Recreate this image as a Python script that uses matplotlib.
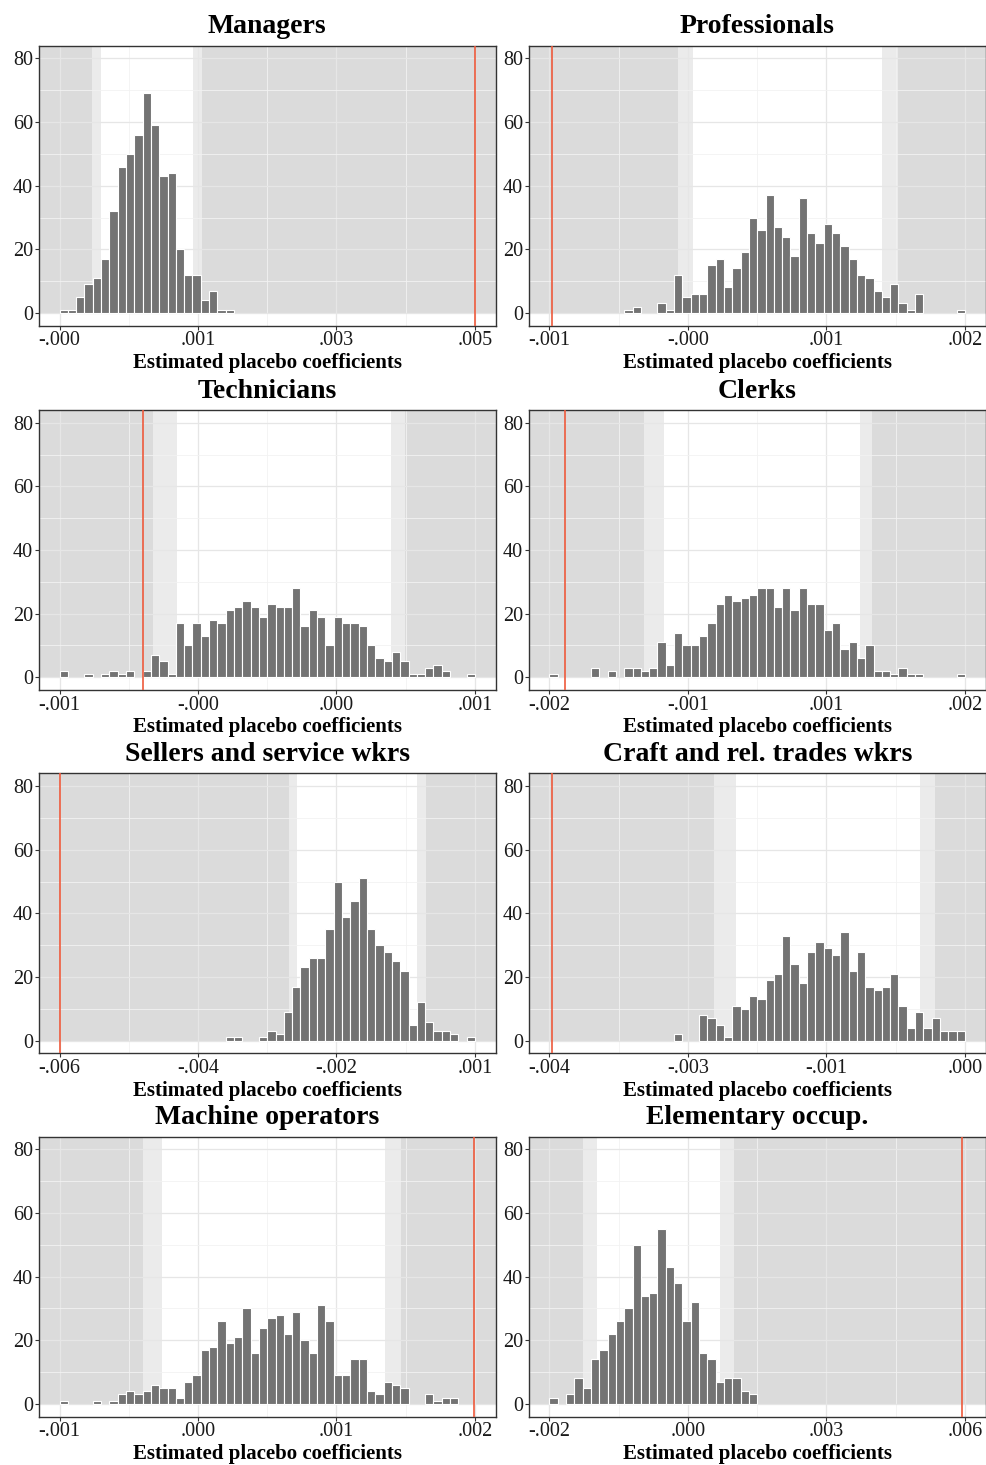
import numpy as np
import matplotlib.pyplot as plt

plt.rcParams['font.family'] = ['Liberation Serif', 'DejaVu Serif']

# occupation groups, one histogram of 500 placebo estimates each
titles = ["Managers", "Professionals", "Technicians", "Clerks",
          "Sellers and service wkrs", "Craft and rel. trades wkrs",
          "Machine operators", "Elementary occup."]

# range covered by the 50 histogram bins
x_lo = [-0.0004, -0.0011, -0.0008, -0.0022, -0.0060, -0.0040, -0.0007, -0.0024]
x_hi = [0.0048, 0.0020, 0.0007, 0.0020, 0.0006, 0.0001, 0.0020, 0.0057]

tick_labels = [["-.000", ".001", ".003", ".005"],
               ["-.001", "-.000", ".001", ".002"],
               ["-.001", "-.000", ".000", ".001"],
               ["-.002", "-.001", ".001", ".002"],
               ["-.006", "-.004", "-.002", ".001"],
               ["-.004", "-.003", "-.001", ".000"],
               ["-.001", ".000", ".001", ".002"],
               ["-.002", ".000", ".003", ".006"]]

# actual estimate (red line)
actual = [0.0048, -0.001078, -0.000499, -0.002038,
          -0.005989, -0.003977, 0.001995, 0.005635]

# outer / inner percentile bounds: dark | light | white | light | dark
bounds = [[0.0000108, 0.000123, 0.001266, 0.001388],
          [-0.000141, -0.0000286, 0.00138, 0.0015015],
          [-0.000463, -0.000377, 0.000397, 0.000447],
          [-0.001242, -0.001042, 0.000937, 0.001058],
          [-0.002358, -0.002231, -0.000327, -0.000179],
          [-0.002372, -0.002155, -0.000343, -0.000195],
          [-0.000157, -0.0000315, 0.001414, 0.001518],
          [-0.001742, -0.001469, 0.000934, 0.001188]]

counts = [
    [1, 1, 5, 9, 11, 17, 32, 46, 50, 56, 69, 59, 43, 44, 20, 12, 12, 4, 7, 1, 1] + [0] * 29,
    [0] * 9 + [1, 2, 0, 0, 3, 1, 12, 5, 6, 6, 15, 17, 8, 14, 19, 30, 26, 37, 27, 24,
               18, 36, 25, 22, 28, 25, 21, 17, 12, 11, 7, 5, 9, 3, 1, 6, 0, 0, 0, 0, 1],
    [2, 0, 0, 1, 0, 1, 2, 1, 2, 0, 2, 7, 5, 1, 17, 10, 17, 13, 18, 17, 21, 22, 24, 22, 19,
     23, 22, 22, 28, 16, 21, 19, 10, 19, 17, 17, 16, 10, 6, 5, 8, 5, 1, 1, 3, 4, 2, 0, 0, 1],
    [1, 0, 0, 0, 0, 3, 0, 2, 0, 3, 3, 2, 3, 11, 4, 14, 10, 10, 13, 17, 23, 26, 24, 25, 26,
     28, 28, 22, 28, 21, 28, 23, 23, 15, 17, 9, 11, 6, 10, 2, 2, 1, 3, 1, 1, 0, 0, 0, 0, 1],
    [0] * 20 + [1, 1, 0, 0, 1, 3, 2, 9, 17, 23, 26, 26, 35, 50, 39, 44, 51, 35, 30, 28,
                25, 22, 5, 12, 6, 3, 3, 2, 0, 1],
    [0] * 15 + [2, 0, 0, 8, 7, 5, 1, 11, 10, 14, 13, 19, 21, 33, 24, 18, 28, 31, 29, 27,
                34, 22, 28, 17, 16, 17, 21, 11, 4, 9, 4, 7, 3, 3, 3],
    [1, 0, 0, 0, 1, 0, 1, 3, 4, 3, 4, 6, 5, 5, 2, 7, 9, 17, 18, 26, 19, 21, 30, 16, 24,
     27, 28, 22, 29, 20, 16, 31, 26, 9, 9, 14, 14, 4, 3, 7, 6, 5, 0, 0, 3, 1, 2, 2, 0, 0],
    [2, 0, 3, 8, 5, 14, 17, 22, 26, 30, 50, 34, 35, 55, 43, 38, 26, 32, 16, 14, 7, 8, 8,
     4, 3] + [0] * 25,
]

dark_grey = '#dbdbdb'
light_grey = '#ebebeb'
bar_grey = '#737373'
red = '#ee5a3c'

fig = plt.figure(figsize=(9.86, 14.65), dpi=100)
lefts = [0.0393, 0.5362]
bottoms = [0.7777, 0.5290, 0.2810, 0.0330]
ax_w, ax_h = 0.4635, 0.1911
ytop = 84

for i, name in enumerate(titles):
    ax = fig.add_axes([lefts[i % 2], bottoms[i // 2], ax_w, ax_h])
    lo, hi = x_lo[i], x_hi[i]
    span = hi - lo
    xl, xr = lo - 0.05 * span, hi + 0.05 * span
    ax.set_xlim(xl, xr)
    ax.set_ylim(-4, ytop)

    # shaded rejection regions, from y=0 upwards
    a, b, c, d = bounds[i]
    for x0, x1, col in [(xl, a, dark_grey), (a, b, light_grey),
                        (c, d, light_grey), (d, xr, dark_grey)]:
        ax.fill_between([x0, x1], 0, ytop, color=col, lw=0, zorder=0.2)

    # histogram
    n = np.array(counts[i])
    width = span / len(n)
    left_edges = lo + np.arange(len(n)) * width
    keep = n > 0
    ax.bar(left_edges[keep], n[keep], width=width, align='edge', color=bar_grey,
           edgecolor='white', linewidth=0.8, zorder=2)

    ax.axvline(actual[i], color=red, lw=1.2, zorder=3)

    ticks = np.linspace(lo, hi, 4)
    ax.set_xticks(ticks)
    ax.set_xticklabels(tick_labels[i])
    ax.set_xticks((ticks[:-1] + ticks[1:]) / 2, minor=True)
    ax.set_yticks([0, 20, 40, 60, 80])
    ax.set_yticks([10, 30, 50, 70], minor=True)

    ax.set_axisbelow(True)
    ax.grid(which='major', color='#e6e6e6', lw=0.9, zorder=0.5)
    ax.grid(which='minor', color='#f2f2f2', lw=0.6, zorder=0.5)
    ax.tick_params(which='major', length=3, width=0.8, color='#333333',
                   labelsize=14.5, labelcolor='#1a1a1a', pad=1)
    ax.tick_params(which='minor', length=0)
    for sp in ax.spines.values():
        sp.set_color('#333333')
        sp.set_linewidth(1.0)

    ax.set_title(name, fontsize=20, fontweight='bold', pad=9)
    ax.set_xlabel("Estimated placebo coefficients", fontsize=15,
                  fontweight='bold', labelpad=2)

fig.savefig('out.png', dpi=100)
